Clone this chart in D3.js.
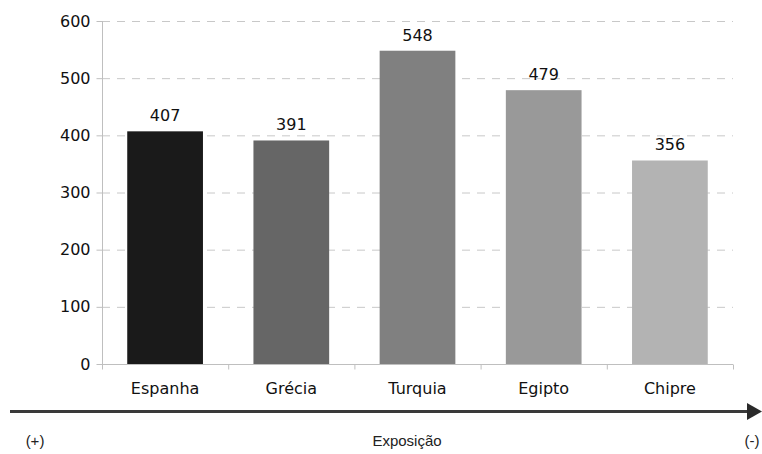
<!DOCTYPE html>
<html><head><meta charset="utf-8">
<script src="https://cdn.jsdelivr.net/npm/d3@7"></script>
<style>body{margin:0;background:#fff}svg{display:block}</style>
</head><body>
<svg id="c" width="762" height="454"></svg>
<script>
const categories = ["Espanha","Grécia","Turquia","Egipto","Chipre"];
const values = [407,391,548,479,356];
const barColors = ["#1a1a1a","#666666","#808080","#999999","#b3b3b3"];
const yTicks = [0,100,200,300,400,500,600];

const svg = d3.select("#c");
const m = {l:102, r:733, t:21, b:364};
const x = d3.scaleBand().domain(categories).range([m.l,m.r]).paddingInner(0.4).paddingOuter(0.2);
const y = d3.scaleLinear().domain([0,600]).range([m.b,m.t]);
const font = "DejaVu Sans, Verdana, sans-serif";

// grid
svg.append("g").selectAll("line").data(yTicks.filter(d=>d>0)).join("line")
  .attr("x1",m.l).attr("x2",m.r).attr("y1",d=>y(d)+0.5).attr("y2",d=>y(d)+0.5)
  .attr("stroke","#c8c8c8").attr("stroke-dasharray","8,7");

// bars
svg.append("g").selectAll("rect").data(values).join("rect")
  .attr("x",(d,i)=>x(categories[i])).attr("width",x.bandwidth())
  .attr("y",d=>y(d)).attr("height",d=>y(0)-y(d))
  .attr("fill",(d,i)=>barColors[i]);

// value labels
svg.append("g").selectAll("text").data(values).join("text")
  .attr("x",(d,i)=>x(categories[i])+x.bandwidth()/2).attr("y",d=>y(d)-10)
  .attr("text-anchor","middle").attr("font-family",font).attr("font-size",16).attr("fill","#111")
  .text(d=>d);

// y axis
const ya = svg.append("g").attr("transform",`translate(${m.l+0.5},0)`)
  .call(d3.axisLeft(y).tickValues(yTicks).tickSize(6).tickPadding(6));
ya.select(".domain").attr("stroke","#bfbfbf").attr("d",`M0,${m.t}V${m.b}`);
ya.selectAll(".tick line").attr("stroke","#bfbfbf");
ya.selectAll("text").attr("font-family",font).attr("font-size",16).attr("fill","#111");

// x axis
const xb = d3.scaleLinear().domain([0,5]).range([m.l,m.r]);
const xa = svg.append("g").attr("transform",`translate(0,${m.b+0.5})`);
xa.append("line").attr("x1",m.l).attr("x2",m.r).attr("stroke","#bfbfbf");
xa.selectAll("line.t").data(d3.range(6)).join("line").attr("class","t")
  .attr("x1",d=>xb(d)+0.5).attr("x2",d=>xb(d)+0.5).attr("y1",0).attr("y2",5).attr("stroke","#bfbfbf");
xa.selectAll("text").data(categories).join("text")
  .attr("x",d=>x(d)+x.bandwidth()/2).attr("y",29.5).attr("text-anchor","middle")
  .attr("font-family",font).attr("font-size",16).attr("fill","#111").text(d=>d);

// exposure arrow
svg.append("line").attr("x1",10).attr("x2",750).attr("y1",411.5).attr("y2",411.5)
  .attr("stroke","#3a3a3a").attr("stroke-width",3);
svg.append("path").attr("d","M747,403L762,411.5L747,420Z").attr("fill","#2a2a2a");

const af = "Liberation Sans, Arial, sans-serif";
svg.append("text").attr("x",35).attr("y",446).attr("text-anchor","middle").attr("font-family",af).attr("font-size",15).attr("fill","#222").text("(+)");
svg.append("text").attr("x",407).attr("y",446).attr("text-anchor","middle").attr("font-family",af).attr("font-size",15).attr("fill","#222").text("Exposição");
svg.append("text").attr("x",752).attr("y",446).attr("text-anchor","middle").attr("font-family",af).attr("font-size",15).attr("fill","#222").text("(-)");
</script>
</body></html>
